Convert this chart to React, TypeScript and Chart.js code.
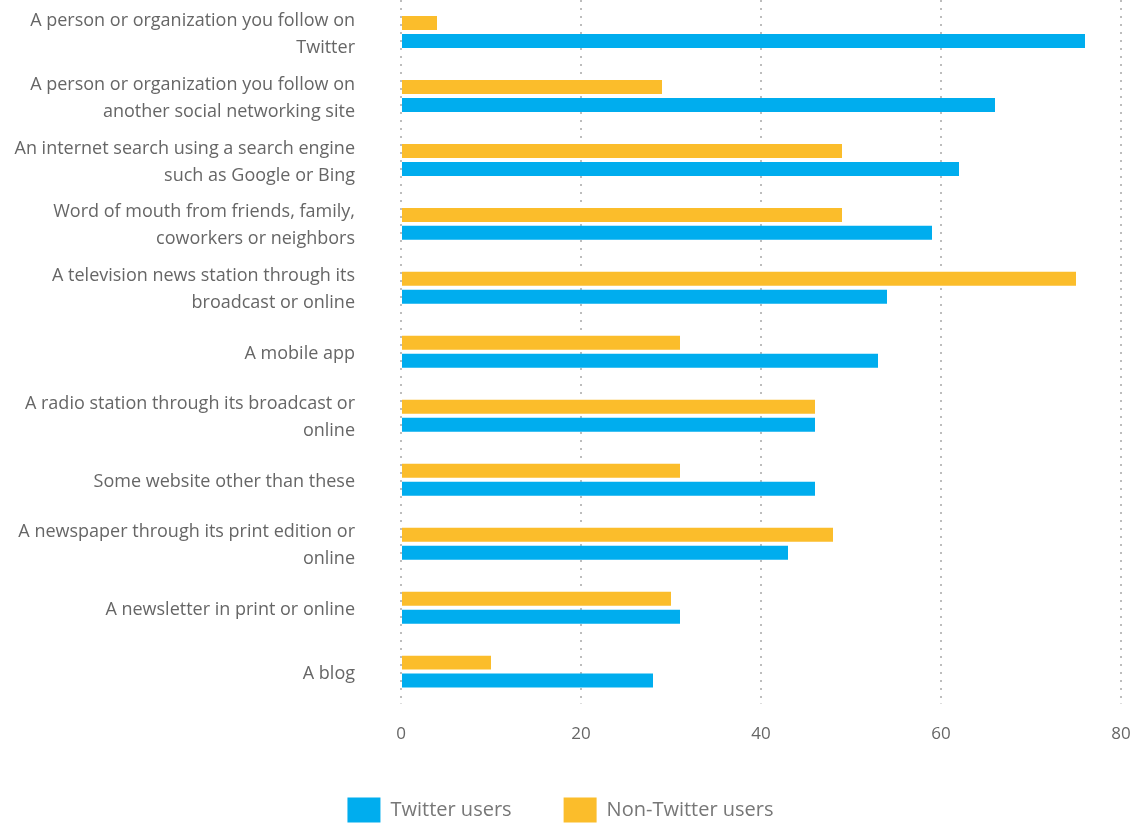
import React, { useEffect, useRef } from "react";
import { Chart, registerables } from "chart.js";

Chart.register(...registerables);

const categories: string[][] = [
  ["A person or organization you follow on", "Twitter"],
  ["A person or organization you follow on", "another social networking site"],
  ["An internet search using a search engine", "such as Google or Bing"],
  ["Word of mouth from friends, family,", "coworkers or neighbors"],
  ["A television news station through its", "broadcast or online"],
  ["A mobile app"],
  ["A radio station through its broadcast or", "online"],
  ["Some website other than these"],
  ["A newspaper through its print edition or", "online"],
  ["A newsletter in print or online"],
  ["A blog"],
];

const twitterUsers: number[] = [76, 66, 62, 59, 54, 53, 46, 46, 43, 31, 28];
const nonTwitterUsers: number[] = [4, 29, 49, 49, 75, 31, 46, 31, 48, 30, 10];

const xTicks: number[] = [0, 20, 40, 60, 80];

const FONT = "'Open Sans', sans-serif";
const LEGEND_PAD = 52;

export default function App() {
  const ref = useRef<HTMLCanvasElement | null>(null);

  useEffect(() => {
    document.body.style.margin = "0";
    if (!ref.current) return;
    const chart = new Chart(ref.current, {
      type: "bar",
      data: {
        labels: categories,
        datasets: [
          {
            label: "Non-Twitter users",
            data: nonTwitterUsers,
            backgroundColor: "#fbbd2b",
            categoryPercentage: 0.5625,
            barPercentage: 0.778,
          },
          {
            label: "Twitter users",
            data: twitterUsers,
            backgroundColor: "#00adee",
            categoryPercentage: 0.5625,
            barPercentage: 0.778,
          },
        ],
      },
      options: {
        indexAxis: "y",
        animation: false,
        responsive: true,
        maintainAspectRatio: false,
        layout: { padding: { top: 0, right: 15, left: 0, bottom: 0 } },
        scales: {
          x: {
            min: 0,
            max: 80,
            afterBuildTicks: (scale: any) => {
              scale.ticks = xTicks.map((v) => ({ value: v }));
            },
            afterFit: (scale: any) => {
              scale.paddingLeft = 0;
              scale.paddingRight = 0;
            },
            border: { display: false, dash: [2, 6] },
            grid: {
              color: "#bdbdbd",
              lineWidth: 2,
              tickLength: 0,
            },
            ticks: {
              color: "#666",
              padding: 20,
              font: { family: FONT, size: 17 },
            },
          },
          y: {
            border: { display: false },
            grid: { display: false },
            afterFit: (scale: any) => {
              scale.width = 401;
              scale.paddingTop = 0;
              scale.paddingBottom = 0;
            },
            ticks: {
              color: "#666",
              padding: 38,
              labelOffset: 2,
              font: { family: FONT, size: 18, lineHeight: 1.5 },
            },
          },
        },
        plugins: {
          legend: {
            position: "bottom",
            reverse: true,
            labels: {
              boxWidth: 33,
              boxHeight: 25,
              padding: LEGEND_PAD,
              color: "#777",
              font: { family: FONT, size: 20 },
            },
          },
          tooltip: { enabled: false },
        },
      },
      plugins: [
        {
          id: "legendShift",
          beforeDraw: (c: any) => {
            if (c.legend && c.chartArea) {
              const top = c.chartArea.bottom + 94 - LEGEND_PAD;
              const h = c.legend.height;
              c.legend.top = top;
              c.legend.bottom = top + h;
            }
          },
        },
      ],
    });
    return () => chart.destroy();
  }, []);

  return (
    <div style={{ position: "absolute", left: 0, top: 0, width: 1136, height: 851 }}>
      <canvas ref={ref} />
    </div>
  );
}
